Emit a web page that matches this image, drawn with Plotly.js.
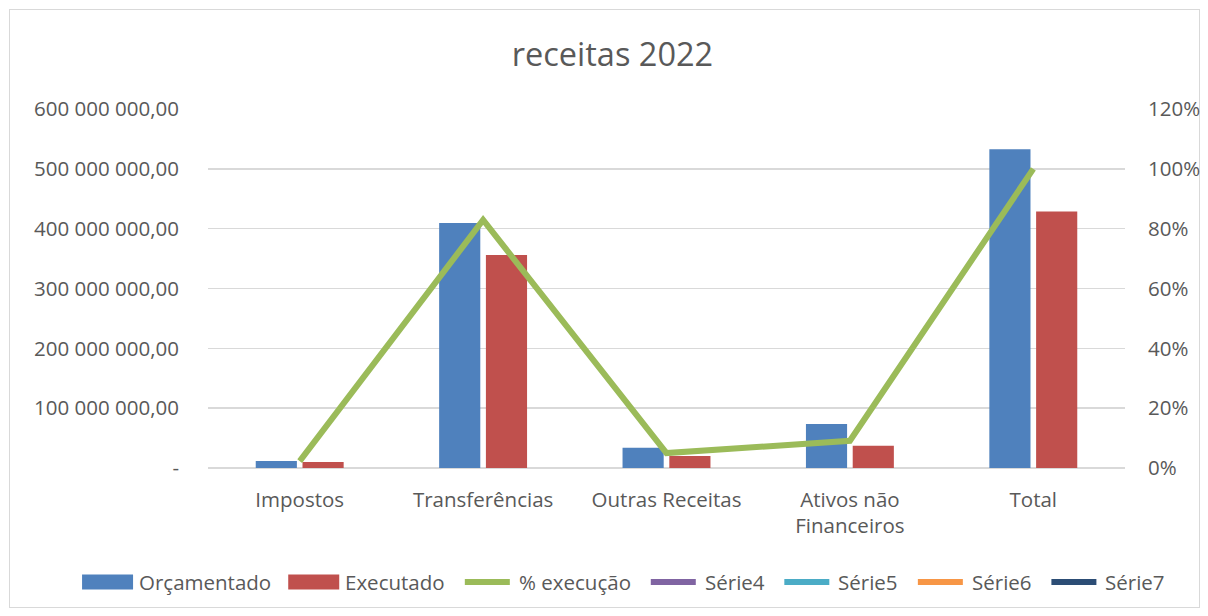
<!DOCTYPE html>
<html>
<head>
<meta charset="utf-8">
<script src="https://cdn.plot.ly/plotly-3.0.1.min.js"></script>
<style>
html,body{margin:0;padding:0;background:#fff;}
#frame{position:absolute;left:9px;top:9px;width:1189px;height:597px;border:1px solid #d9d9d9;}
#chart{position:absolute;left:0;top:0;width:1208px;height:616px;}
</style>
</head>
<body>
<div id="frame"></div>
<div id="chart"></div>
<script>
const categories = ["Impostos", "Transferências", "Outras Receitas", "Ativos não<br>Financeiros", "Total"];
const orcamentado = [11700000, 409500000, 34000000, 73500000, 532600000];
const executado = [10000000, 356000000, 20000000, 37000000, 428500000];
const execucao = [0.023, 0.829, 0.05, 0.091, 1.0];
const serie4 = [null, null, null, null, null];
const serie5 = [null, null, null, null, null];
const serie6 = [null, null, null, null, null];
const serie7 = [null, null, null, null, null];
const leftTickVals = [0, 100000000, 200000000, 300000000, 400000000, 500000000, 600000000];
const leftTickText = ["-", "100 000 000,00", "200 000 000,00", "300 000 000,00", "400 000 000,00", "500 000 000,00", "600 000 000,00"];
const rightTickVals = [0, 0.2, 0.4, 0.6, 0.8, 1.0, 1.2];
const rightTickText = ["0%", "20%", "40%", "60%", "80%", "100%", "120%"];

const fontFam = "Open Sans, Noto Sans, sans-serif";
const txt = "#595959";
const fsize = 20.5;

const traces = [
  {type: "bar", name: "Orçamentado", x: categories, y: orcamentado, marker: {color: "#4F81BD"}},
  {type: "bar", name: "Executado", x: categories, y: executado, marker: {color: "#C0504D"}},
  {type: "scatter", mode: "lines", name: "% execução", x: categories, y: execucao, yaxis: "y2", line: {color: "#9BBB59", width: 6}},
  {type: "scatter", mode: "lines", name: "Série4", x: categories, y: serie4, yaxis: "y2", line: {color: "#8064A2", width: 6}},
  {type: "scatter", mode: "lines", name: "Série5", x: categories, y: serie5, yaxis: "y2", line: {color: "#4BACC6", width: 6}},
  {type: "scatter", mode: "lines", name: "Série6", x: categories, y: serie6, yaxis: "y2", line: {color: "#F79646", width: 6}},
  {type: "scatter", mode: "lines", name: "Série7", x: categories, y: serie7, yaxis: "y2", line: {color: "#2C4D75", width: 6}}
];

// plot-area geometry (pixels)
const W = 1208, H = 616;
const mL = 208, mR = 83, mT = 109, mB = 148;
const pw = W - mL - mR, ph = H - mT - mB;
const px2x = p => (p - mL) / pw;
const py2y = p => (H - mB - p) / ph;

// custom legend, built from the traces
const canvas = document.createElement("canvas");
const ctx = canvas.getContext("2d");
ctx.font = fsize + "px " + fontFam;
const symW = 51, symGap = 4, itemGap = 19, legY = 582;
const items = traces.map(t => {
  const w = ctx.measureText(t.name).width;
  return {name: t.name, color: t.type === "bar" ? t.marker.color : t.line.color, bar: t.type === "bar", tw: w};
});
const total = items.reduce((s, it) => s + symW + symGap + it.tw, 0) + itemGap * (items.length - 1);
let cx = 622.5 - total / 2;
const shapes = [], annotations = [];
items.forEach(it => {
  if (it.bar) {
    shapes.push({type: "rect", xref: "paper", yref: "paper", x0: px2x(cx), x1: px2x(cx + symW), y0: py2y(legY + 7.5), y1: py2y(legY - 7.5), fillcolor: it.color, line: {width: 0}});
  } else {
    shapes.push({type: "line", xref: "paper", yref: "paper", x0: px2x(cx + 3), x1: px2x(cx + symW - 3), y0: py2y(legY), y1: py2y(legY), line: {color: it.color, width: 6}});
  }
  annotations.push({xref: "paper", yref: "paper", x: px2x(cx + symW + symGap), y: py2y(legY), xanchor: "left", yanchor: "middle", showarrow: false, text: it.name, font: {family: fontFam, size: fsize, color: txt}, xshift: 0});
  cx += symW + symGap + it.tw + itemGap;
});

const layout = {
  width: W, height: H,
  paper_bgcolor: "rgba(0,0,0,0)", plot_bgcolor: "rgba(0,0,0,0)",
  margin: {l: mL, r: mR, t: mT, b: mB},
  font: {family: fontFam, color: txt, size: fsize},
  title: {text: "receitas 2022", x: 0.507, xanchor: "center", y: 0.912, yanchor: "middle", font: {size: 32.5, color: txt, family: fontFam}},
  barmode: "group", bargap: 0.49, bargroupgap: 0.12,
  showlegend: false,
  shapes: shapes,
  annotations: annotations,
  xaxis: {type: "category", showgrid: false, showline: false, ticks: "", tickfont: {size: fsize, color: txt}, ticklabelstandoff: 17, automargin: false},
  yaxis: {range: [0, 600000000], tickvals: leftTickVals, ticktext: leftTickText, showgrid: true, gridcolor: "#d9d9d9", gridwidth: 1.5, zeroline: true, zerolinecolor: "#d9d9d9", zerolinewidth: 1.5, showline: false, ticks: "", tickfont: {size: fsize, color: txt}, ticklabelstandoff: 28, automargin: false},
  yaxis2: {range: [0, 1.2], overlaying: "y", side: "right", tickvals: rightTickVals, ticktext: rightTickText, showgrid: false, zeroline: false, showline: false, ticks: "", tickfont: {size: fsize, color: txt}, ticklabelstandoff: 22, automargin: false}
};

Plotly.newPlot("chart", traces, layout, {displayModeBar: false, staticPlot: true});
</script>
</body>
</html>
